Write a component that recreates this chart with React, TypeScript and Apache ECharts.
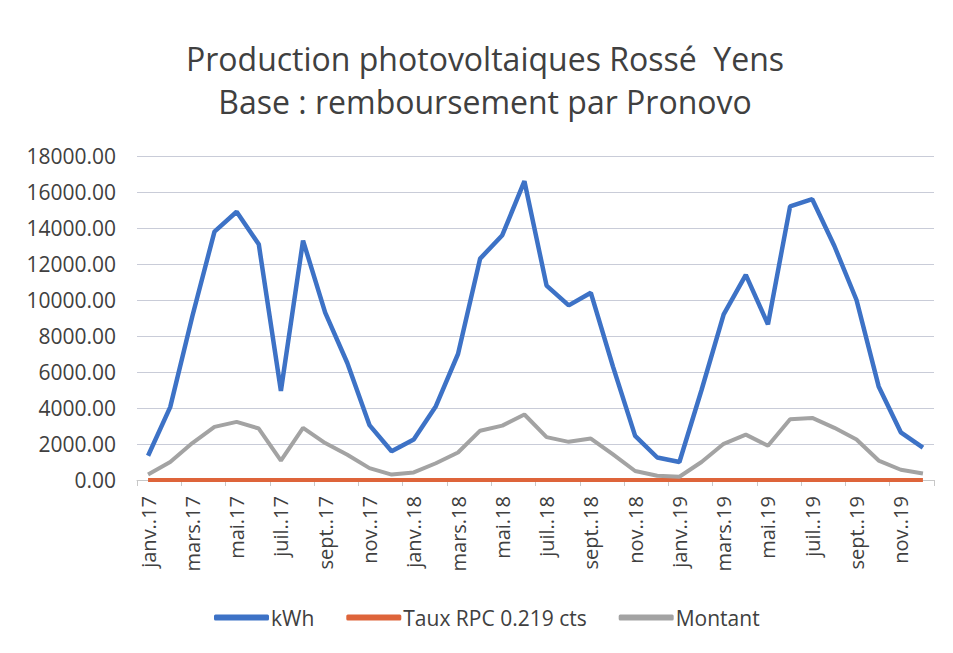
import React, { useEffect, useRef } from "react";
import * as echarts from "echarts";

const categories = [
  "janv..17", "févr..17", "mars.17", "avr..17", "mai.17", "juin.17", "juil..17", "août.17", "sept..17", "oct..17", "nov..17", "déc..17",
  "janv..18", "févr..18", "mars.18", "avr..18", "mai.18", "juin.18", "juil..18", "août.18", "sept..18", "oct..18", "nov..18", "déc..18",
  "janv..19", "févr..19", "mars.19", "avr..19", "mai.19", "juin.19", "juil..19", "août.19", "sept..19", "oct..19", "nov..19", "déc..19",
];

const kwhValues = [
  1350, 4050, 9100, 13800, 14900, 13100, 4950, 13300, 9300, 6500, 3050, 1600,
  2250, 4100, 7000, 12300, 13600, 16600, 10800, 9700, 10400, 6300, 2450, 1250,
  1000, 5000, 9200, 11400, 8650, 15200, 15600, 13000, 10000, 5200, 2650, 1800,
];

const tauxValues = [
  0.219, 0.219, 0.219, 0.219, 0.219, 0.219, 0.219, 0.219, 0.219, 0.219, 0.219, 0.219,
  0.219, 0.219, 0.219, 0.219, 0.219, 0.219, 0.219, 0.219, 0.219, 0.219, 0.219, 0.219,
  0.219, 0.219, 0.219, 0.219, 0.219, 0.219, 0.219, 0.219, 0.219, 0.219, 0.219, 0.219,
];

const montantValues = [
  310, 1000, 2050, 2950, 3230, 2860, 1070, 2900, 2050, 1400, 660, 300,
  420, 930, 1530, 2740, 3020, 3640, 2380, 2120, 2300, 1420, 500, 240,
  180, 1000, 2010, 2520, 1900, 3380, 3450, 2900, 2250, 1080, 570, 360,
];

const seriesNames = ["kWh", "Taux RPC 0.219 cts", "Montant"];
const seriesColors = ["#3D72C6", "#DE643A", "#A3A3A3"];

export default function App() {
  const ref = useRef<HTMLDivElement>(null);

  useEffect(() => {
    if (!ref.current) return;
    const chart = echarts.init(ref.current, undefined, { renderer: "svg" });
    const font = "'Open Sans', 'Noto Sans', sans-serif";
    const textColor = "#404040";
    const seriesData = [kwhValues, tauxValues, montantValues];
    chart.setOption({
      animation: false,
      backgroundColor: "#ffffff",
      title: {
        text: "Production photovoltaiques Rossé  Yens\nBase : remboursement par Pronovo",
        left: 485,
        textAlign: "center",
        top: 37,
        padding: 0,
        textStyle: {
          fontFamily: font,
          fontSize: 32,
          fontWeight: "normal",
          color: textColor,
          lineHeight: 43,
        },
      },
      legend: {
        bottom: 20,
        left: 209,
        itemWidth: 55,
        itemHeight: 6,
        itemGap: 32,
        icon: "roundRect",
        textStyle: { fontFamily: font, fontSize: 21, color: textColor, padding: [0, 0, 0, -3] },
        data: seriesNames,
      },
      grid: { left: 137, right: 19, top: 156, bottom: 173 },
      xAxis: {
        type: "category",
        data: categories,
        boundaryGap: true,
        axisLine: { show: true, lineStyle: { color: "#C8C8C8", width: 1 } },
        axisTick: { show: true, interval: 1, length: 6, lineStyle: { color: "#C8C8C8" } },
        axisLabel: {
          interval: 1,
          rotate: 90,
          fontFamily: font,
          fontSize: 20,
          color: textColor,
          margin: 16,
        },
      },
      yAxis: {
        type: "value",
        min: 0,
        max: 18000,
        interval: 2000,
        axisLine: { show: false },
        axisTick: { show: false },
        splitLine: { lineStyle: { color: "#C9CCD8", width: 1 } },
        axisLabel: {
          fontFamily: font,
          fontSize: 21,
          color: textColor,
          margin: 21,
          formatter: (v: number) => v.toFixed(2),
        },
      },
      series: seriesNames.map((name, i) => ({
        name,
        type: "line",
        data: seriesData[i],
        symbol: "none",
        smooth: false,
        color: seriesColors[i],
        lineStyle: { color: seriesColors[i], width: i === 0 ? 4.5 : 4 },
        z: i === 0 ? 3 : 2,
      })),
    });
    return () => chart.dispose();
  }, []);

  return (
    <div
      ref={ref}
      style={{ position: "fixed", left: 0, top: 0, width: 953, height: 653 }}
    />
  );
}
